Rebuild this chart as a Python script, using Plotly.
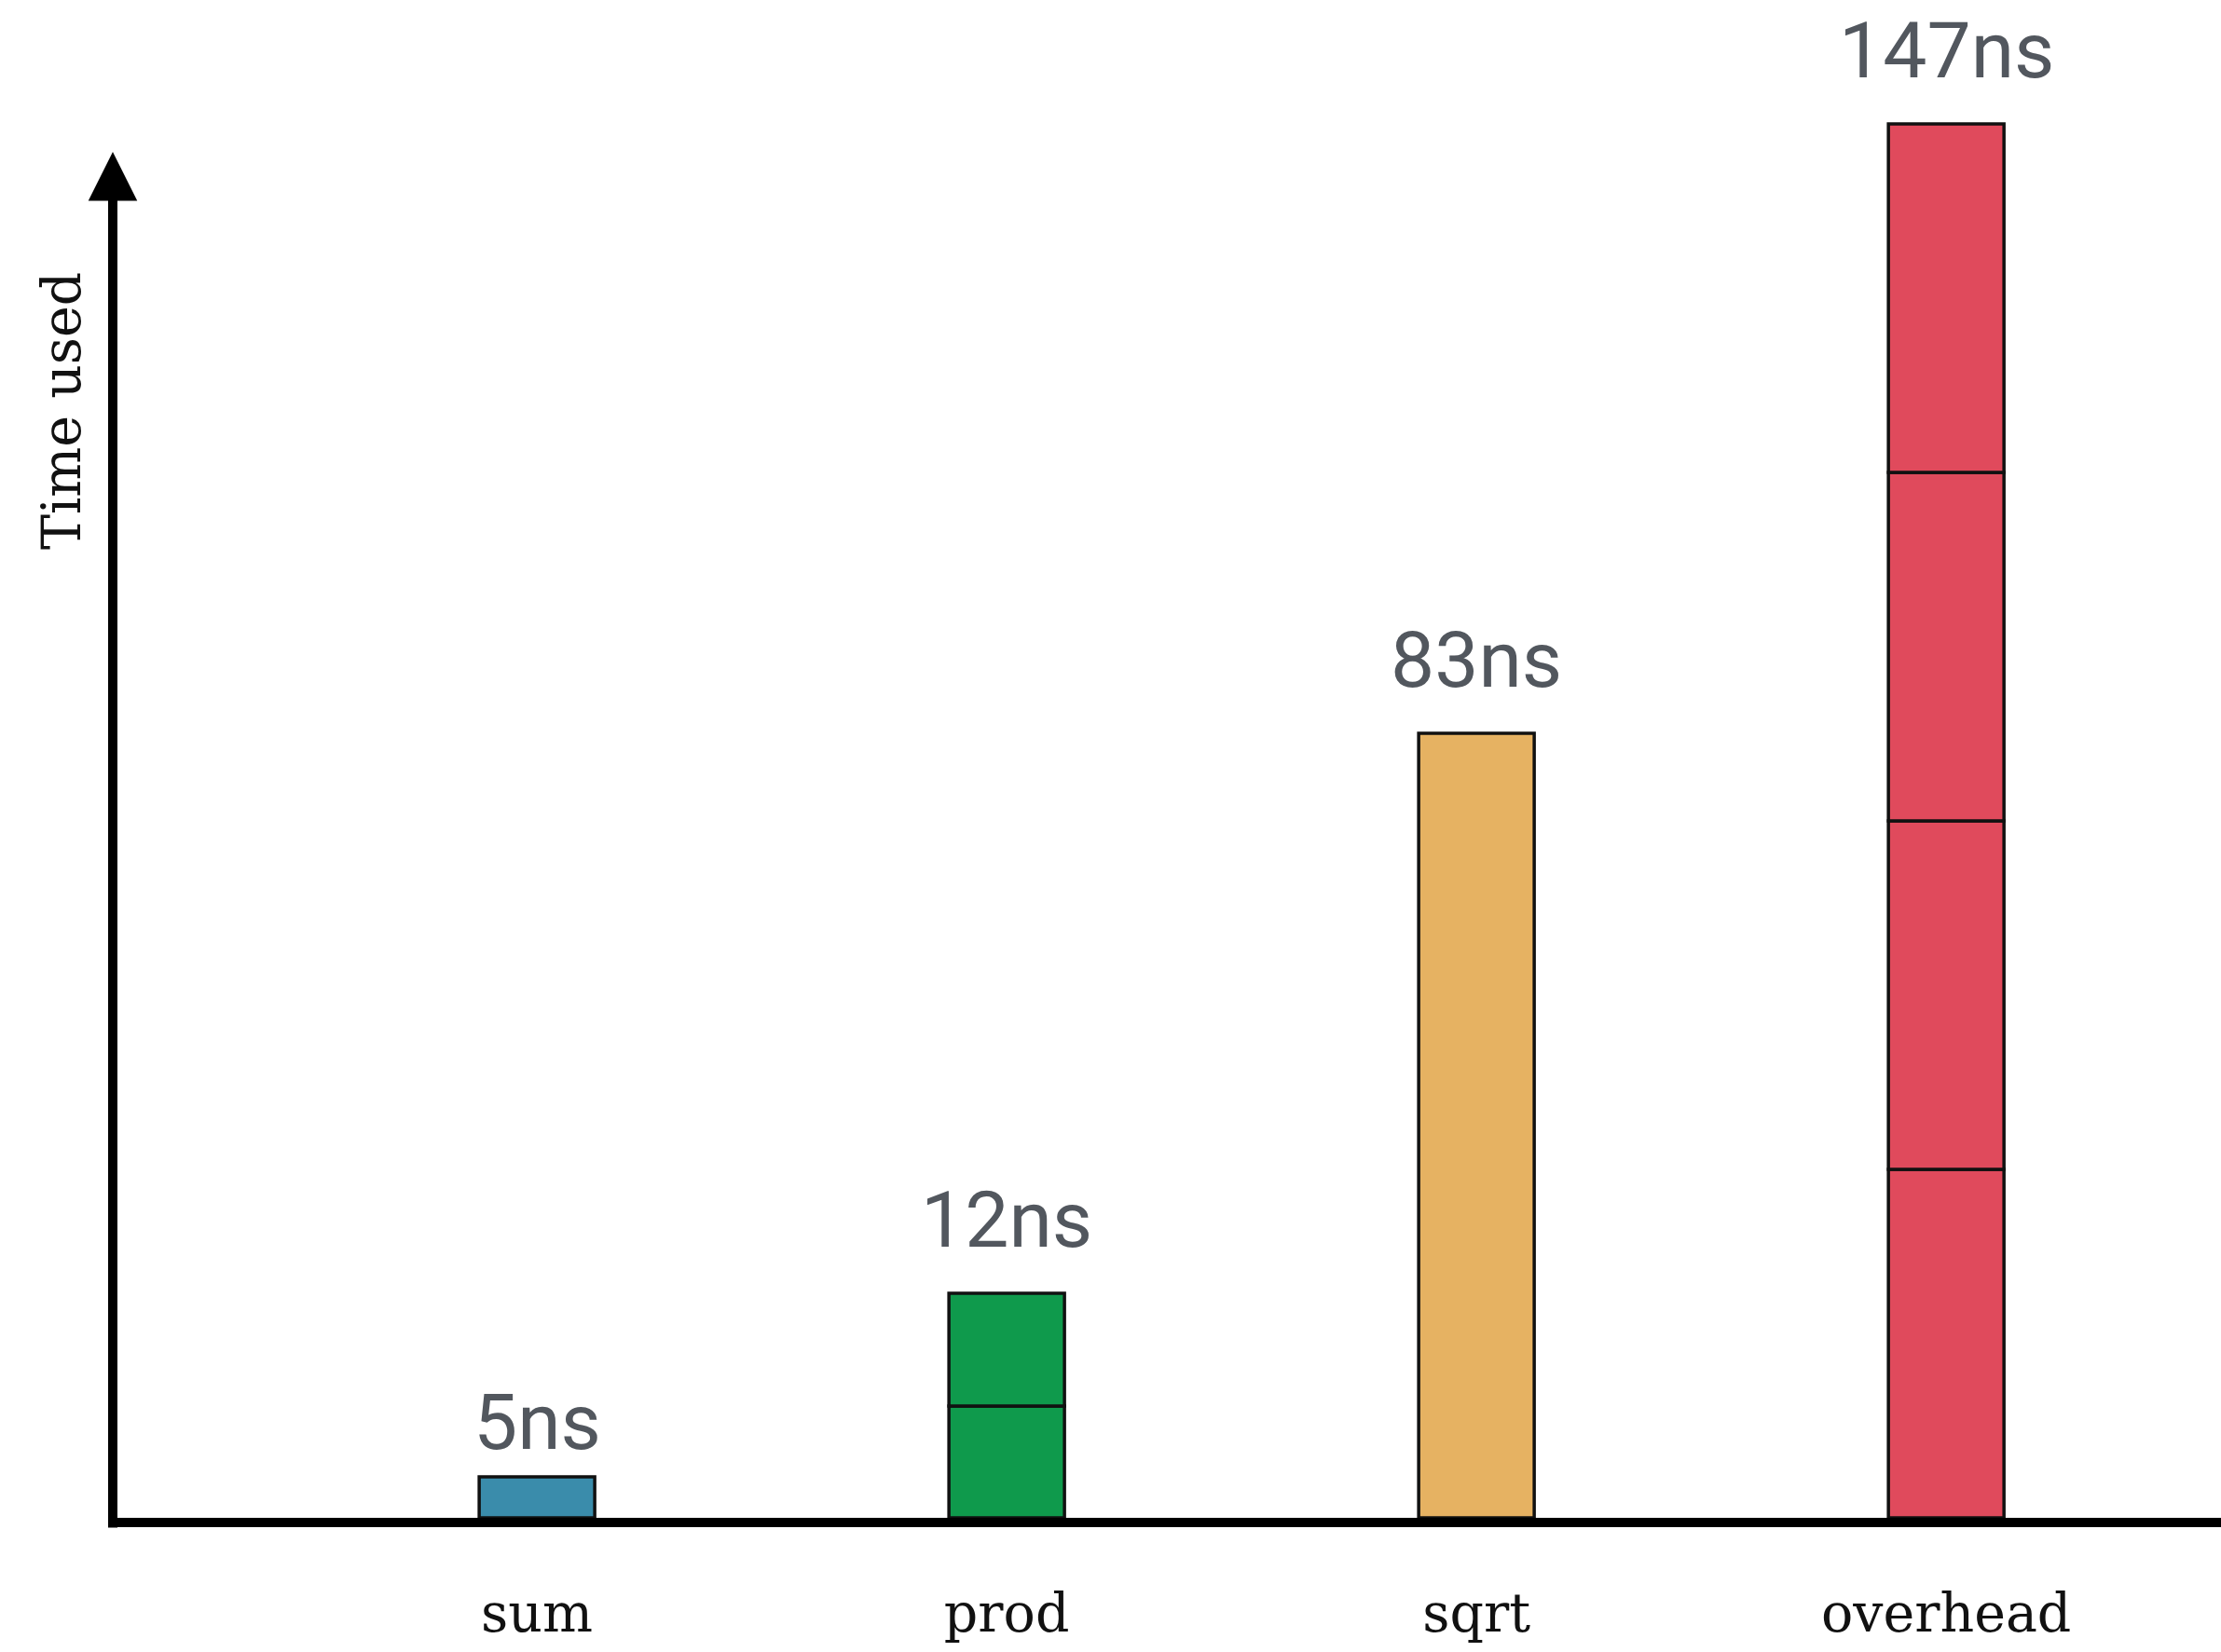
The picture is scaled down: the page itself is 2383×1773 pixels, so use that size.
import plotly.graph_objects as go
import numpy as np

categories = ["sum", "prod", "sqrt", "overhead"]
sum_segments = [4.4]
prod_segments = [12.0, 12.1]
sqrt_segments = [84.2]
overhead_segments = [37.4, 37.4, 37.4, 37.4]
time_labels = ["5ns", "12ns", "83ns", "147ns"]
bar_colors = ["#3a8cab", "#0f9a4c", "#e6b262", "#e04a5c"]
label_yshift = [7, 27, 27, 27]

all_segments = [sum_segments, prod_segments, sqrt_segments, overhead_segments]

fig = go.Figure()
for i, (segs, col) in enumerate(zip(all_segments, bar_colors)):
    segs = np.array(segs, dtype=float)
    bases = np.concatenate([[0.0], np.cumsum(segs)[:-1]])
    fig.add_trace(go.Bar(
        x=[i] * len(segs), y=segs, base=bases, width=0.246,
        marker=dict(color=col, line=dict(color="#111111", width=3.5)),
        showlegend=False, hoverinfo="skip",
    ))

for i, (segs, lab) in enumerate(zip(all_segments, time_labels)):
    fig.add_annotation(
        x=i, y=float(np.sum(segs)), xref="x", yref="y", text=lab,
        showarrow=False, yanchor="bottom", yshift=label_yshift[i],
        font=dict(family="Roboto", size=84, color="#52575e"),
    )

# y axis arrow
fig.add_annotation(
    x=0, y=0.9, xref="paper", yref="paper", text="",
    showarrow=True, ax=0, ay=1478, axref="pixel", ayref="pixel",
    arrowhead=2, arrowwidth=10, arrowsize=1.05, arrowcolor="black", standoff=0,
)
fig.add_annotation(
    x=(66 - 121) / (2383 - 121), y=(1629 - 441) / 1629, xref="paper", yref="paper",
    text="Time used", textangle=-90, showarrow=False,
    xanchor="center", yanchor="middle",
    font=dict(family="DejaVu Serif", size=57, color="#111111"),
)

fig.update_layout(
    width=2383, height=1773,
    margin=dict(l=121, r=0, t=0, b=144),
    paper_bgcolor="white", plot_bgcolor="white",
    barmode="overlay",
    xaxis=dict(
        range=[-0.903, 3.585], tickvals=list(range(len(categories))), ticktext=categories,
        showgrid=False, zeroline=False, showline=True, linewidth=10, linecolor="black",
        ticks="", ticklabelstandoff=44,
        tickfont=dict(family="DejaVu Serif", size=57, color="#111111"),
    ),
    yaxis=dict(range=[0, 162.9], visible=False, showgrid=False, zeroline=False),
)

fig.write_html("out.html")
